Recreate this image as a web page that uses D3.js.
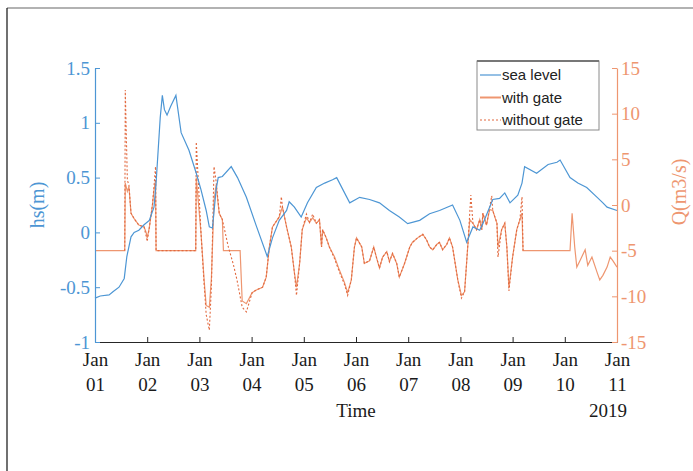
<!DOCTYPE html>
<html>
<head>
<meta charset="utf-8">
<script src="https://cdn.jsdelivr.net/npm/d3@7"></script>
<style>
  body { margin: 0; background: #fff; }
  svg text { font-family: "Liberation Serif", "Times New Roman", serif; }
</style>
</head>
<body>
<div id="chart"></div>
<script>
// day offsets from Jan 01 2019 00:00
var dayTicks = [0, 1, 2, 3, 4, 5, 6, 7, 8, 9, 10];
var dayLabels = ["01", "02", "03", "04", "05", "06", "07", "08", "09", "10", "11"];
var hsTicks = [-1, -0.5, 0, 0.5, 1, 1.5];
var qTicks = [-15, -10, -5, 0, 5, 10, 15];
var legendNames = ["sea level", "with gate", "without gate"];

// sea level hs (m)
var seaLevel = [
  [0, -0.6], [0.1, -0.58], [0.27, -0.57], [0.35, -0.54], [0.46, -0.5], [0.56, -0.42],
  [0.61, -0.22], [0.69, -0.04], [0.75, 0.0], [0.84, 0.02], [0.94, 0.07], [1.04, 0.11],
  [1.13, 0.23], [1.17, 0.45], [1.21, 0.75], [1.25, 1.05], [1.29, 1.25], [1.33, 1.12],
  [1.38, 1.07], [1.45, 1.15], [1.55, 1.25], [1.65, 0.91], [1.8, 0.75], [1.94, 0.54],
  [2.03, 0.39], [2.13, 0.2], [2.19, 0.05], [2.25, 0.04], [2.32, 0.39], [2.36, 0.5],
  [2.44, 0.51], [2.61, 0.6], [2.73, 0.5], [2.9, 0.32], [3.09, 0.06], [3.3, -0.22],
  [3.4, -0.05], [3.53, 0.11], [3.67, 0.2], [3.72, 0.28], [3.82, 0.23], [3.95, 0.14],
  [4.07, 0.27], [4.24, 0.41], [4.4, 0.45], [4.55, 0.48], [4.63, 0.5], [4.88, 0.27],
  [5.07, 0.32], [5.26, 0.3], [5.45, 0.27], [5.64, 0.2], [5.83, 0.14], [5.99, 0.08],
  [6.22, 0.11], [6.41, 0.17], [6.6, 0.2], [6.85, 0.25], [6.99, 0.11], [7.12, -0.09],
  [7.24, 0.05], [7.37, 0.02], [7.43, 0.08], [7.62, 0.3], [7.75, 0.31], [7.85, 0.36],
  [7.95, 0.27], [8.1, 0.34], [8.18, 0.45], [8.23, 0.6], [8.46, 0.54], [8.68, 0.62],
  [8.85, 0.64], [8.91, 0.66], [9.1, 0.5], [9.25, 0.45], [9.42, 0.41], [9.62, 0.32],
  [9.73, 0.27], [9.81, 0.23], [10, 0.2]
];

// discharge Q (m3/s) with gate
var withGate = [
  [0, -5], [0.57, -5], [0.58, 2.4], [0.62, 1.5], [0.65, 2.0], [0.69, -0.9], [0.75, -1.5],
  [0.84, -2.2], [0.94, -2.4], [0.98, -3.0], [1.0, -3.6], [1.04, -2.5], [1.1, 0.0],
  [1.13, 1.6], [1.16, 2.7], [1.17, -5], [1.93, -5], [1.94, 3.0], [2.03, -3], [2.09, -8.2],
  [2.13, -11], [2.19, -11.2], [2.23, -8], [2.28, 0.5], [2.32, 2.2], [2.38, -0.9],
  [2.44, -1.6], [2.46, -5], [2.78, -5], [2.82, -10.5], [2.9, -10.8], [3.01, -9.6],
  [3.09, -9.3], [3.21, -9.0], [3.28, -7.9], [3.34, -4.6], [3.4, -2.4], [3.53, -1.3],
  [3.59, -0.2], [3.67, -2.4], [3.76, -4.6], [3.82, -7.4], [3.86, -9.0], [3.92, -6.4],
  [3.97, -2.7], [4.05, -1.4], [4.11, -1.9], [4.17, -1.4], [4.24, -2.0], [4.3, -1.6],
  [4.34, -4.6], [4.36, -2.7], [4.43, -3.6], [4.49, -4.6], [4.59, -5.7], [4.68, -7.1],
  [4.78, -8.5], [4.84, -9.6], [4.91, -8.2], [4.97, -4.6], [5.01, -3.6], [5.11, -4.6],
  [5.16, -6.4], [5.26, -6.1], [5.34, -4.6], [5.39, -5.7], [5.45, -6.9], [5.51, -5.7],
  [5.59, -5.1], [5.64, -6.2], [5.7, -5.3], [5.78, -6.4], [5.83, -7.9], [5.93, -6.4],
  [6.03, -4.6], [6.08, -4.1], [6.18, -3.6], [6.28, -3.2], [6.35, -3.8], [6.41, -4.6],
  [6.47, -4.9], [6.55, -4.3], [6.6, -4.1], [6.66, -4.9], [6.74, -4.3], [6.79, -3.6],
  [6.85, -4.6], [6.95, -8.2], [7.02, -9.9], [7.08, -9.5], [7.14, -4.6], [7.18, -1.6],
  [7.24, -2.0], [7.31, -2.7], [7.37, -1.6], [7.41, -2.7], [7.43, -0.9], [7.5, -2.2],
  [7.56, -0.5], [7.62, -0.6], [7.7, -2.0], [7.72, -4.6], [7.79, -2.7], [7.85, -2.0],
  [7.89, -4.6], [7.93, -9.0], [8.0, -5.7], [8.08, -2.7], [8.14, -1.6], [8.18, -0.9],
  [8.2, -5], [9.1, -5], [9.14, -0.9], [9.19, -4.6], [9.23, -6.8], [9.29, -6.1],
  [9.39, -4.9], [9.44, -6.6], [9.52, -5.7], [9.62, -7.4], [9.67, -8.2], [9.73, -7.7],
  [9.81, -6.8], [9.87, -5.7], [9.92, -6.1], [10, -6.8]
];

// discharge Q (m3/s) without gate
var withoutGate = [
  [0.57, -5], [0.58, 12.6], [0.62, 2.7], [0.65, 2.2], [0.69, -0.9], [0.75, -1.5],
  [0.84, -2.2], [0.94, -2.4], [0.98, -3.4], [1.0, -4.0], [1.04, -2.5], [1.1, 0.0],
  [1.13, 2.0], [1.16, 4.2], [1.17, -5], [1.93, -5], [1.94, 6.9], [2.03, -3], [2.09, -8.6],
  [2.13, -12], [2.19, -13.7], [2.23, -9], [2.28, 4.2], [2.32, 2.6], [2.38, -0.9],
  [2.44, -1.6], [2.55, -4.5], [2.65, -6.5], [2.72, -8.2], [2.82, -11.2], [2.9, -11.7],
  [3.01, -9.6], [3.09, -9.3], [3.21, -9.0], [3.28, -7.9], [3.34, -4.6], [3.4, -2.4],
  [3.53, -1.3], [3.57, 0.9], [3.59, -0.2], [3.67, -2.4], [3.76, -4.6], [3.82, -7.4],
  [3.86, -9.9], [3.92, -6.4], [3.97, -2.7], [4.05, -1.0], [4.11, -1.9], [4.17, -1.0],
  [4.24, -2.0], [4.3, -1.6], [4.34, -4.6], [4.36, -2.7], [4.43, -3.6], [4.49, -4.6],
  [4.59, -5.9], [4.68, -7.3], [4.78, -8.7], [4.84, -9.9], [4.91, -8.2], [4.97, -4.6],
  [5.01, -3.6], [5.11, -4.6], [5.16, -6.4], [5.26, -6.1], [5.34, -4.6], [5.39, -5.7],
  [5.45, -6.9], [5.51, -5.7], [5.59, -5.1], [5.64, -6.2], [5.7, -5.3], [5.78, -6.4],
  [5.83, -7.9], [5.93, -6.4], [6.03, -4.6], [6.08, -4.1], [6.18, -3.6], [6.28, -3.2],
  [6.35, -3.8], [6.41, -4.6], [6.47, -4.9], [6.55, -4.3], [6.6, -4.1], [6.66, -4.9],
  [6.74, -4.3], [6.79, -3.6], [6.85, -4.6], [6.95, -8.2], [7.02, -10.2], [7.08, -9.5],
  [7.14, -4.6], [7.2, 1.1], [7.24, -2.0], [7.31, -2.7], [7.37, -1.6], [7.41, -2.7],
  [7.43, -0.9], [7.5, -2.2], [7.6, 1.0], [7.62, -0.6], [7.7, -2.0], [7.72, -5.7],
  [7.79, -2.7], [7.85, -2.0], [7.89, -4.6], [7.93, -9.4], [8.0, -5.7], [8.08, -2.7],
  [8.14, -1.6], [8.18, 0.9], [8.2, -5]
];

var W = 693, H = 471;
var margin = {top: 68, right: 76, bottom: 129, left: 95};
var width = W - margin.left - margin.right;
var height = H - margin.top - margin.bottom;

var blue = "#4d96d4";
var orange = "#ee9670";
var dotOrange = "#e2693f";

var svg = d3.select("#chart").append("svg")
    .attr("width", W)
    .attr("height", H);

// outer frame (only top and left edges show)
svg.append("line").attr("x1", 7).attr("x2", W).attr("y1", 8).attr("y2", 8)
    .style("stroke", "#666").style("stroke-width", 1.2);
svg.append("line").attr("x1", 7).attr("x2", 7).attr("y1", 8).attr("y2", H)
    .style("stroke", "#111").style("stroke-width", 1.2);

var g = svg.append("g")
    .attr("transform", "translate(" + margin.left + "," + margin.top + ")");

var x = d3.scaleLinear().domain([0, 10]).range([0, width]);
var yL = d3.scaleLinear().domain([-1, 1.5]).range([height, 0]);
var yR = d3.scaleLinear().domain([-15, 15]).range([height, 0]);

// lines
var lineL = d3.line().x(function(d) { return x(d[0]); }).y(function(d) { return yL(d[1]); });
var lineR = d3.line().x(function(d) { return x(d[0]); }).y(function(d) { return yR(d[1]); });

g.append("path")
    .datum(withGate)
    .attr("d", lineR)
    .style("fill", "none")
    .style("stroke", orange)
    .style("stroke-width", 1.2);

g.append("path")
    .datum(withoutGate)
    .attr("d", lineR)
    .style("fill", "none")
    .style("stroke", dotOrange)
    .style("stroke-width", 1.1)
    .style("stroke-dasharray", "2,2");

g.append("path")
    .datum(seaLevel)
    .attr("d", lineL)
    .style("fill", "none")
    .style("stroke", blue)
    .style("stroke-width", 1.2);

// x axis
var xAxis = g.append("g")
    .attr("transform", "translate(0," + height + ")")
    .call(d3.axisBottom(x).tickValues(dayTicks).tickSizeInner(-5).tickSizeOuter(0).tickFormat(""));
xAxis.select(".domain").style("stroke", "#262626");
xAxis.selectAll(".tick line").style("stroke", "#262626");

xAxis.selectAll(".tick").each(function(d, i) {
    var t = d3.select(this).append("text")
        .attr("fill", "#1a1a1a")
        .style("font-size", "19px")
        .attr("text-anchor", "middle");
    t.append("tspan").attr("x", 0).attr("y", 24).text("Jan");
    t.append("tspan").attr("x", 0).attr("y", 49).text(dayLabels[i]);
});

g.append("text")
    .attr("x", width / 2)
    .attr("y", height + 75)
    .attr("text-anchor", "middle")
    .style("font-size", "19px")
    .attr("fill", "#1a1a1a")
    .text("Time");

g.append("text")
    .attr("x", width + 10)
    .attr("y", height + 75)
    .attr("text-anchor", "end")
    .style("font-size", "19px")
    .attr("fill", "#1a1a1a")
    .text("2019");

// left axis
var leftAxis = g.append("g")
    .call(d3.axisLeft(yL).tickValues(hsTicks).tickSizeInner(-5).tickSizeOuter(0).tickPadding(5)
        .tickFormat(function(d) { return String(d); }));
leftAxis.select(".domain").style("stroke", blue).style("stroke-width", 1.2);
leftAxis.selectAll(".tick line").style("stroke", blue);
leftAxis.selectAll(".tick text")
    .attr("fill", blue)
    .style("font-size", "19px")
    .style("font-family", "Liberation Serif, serif");

// right axis
var rightAxis = g.append("g")
    .attr("transform", "translate(" + width + ",0)")
    .call(d3.axisRight(yR).tickValues(qTicks).tickSizeInner(-5).tickSizeOuter(0).tickPadding(4)
        .tickFormat(function(d) { return String(d); }));
rightAxis.select(".domain").style("stroke", orange).style("stroke-width", 1.2);
rightAxis.selectAll(".tick line").style("stroke", orange);
rightAxis.selectAll(".tick text")
    .attr("fill", orange)
    .style("font-size", "19px")
    .style("font-family", "Liberation Serif, serif");

// axis titles
svg.append("text")
    .attr("transform", "translate(44,205) rotate(-90)")
    .attr("text-anchor", "middle")
    .attr("fill", blue)
    .style("font-size", "20px")
    .text("hs(m)");

svg.append("text")
    .attr("transform", "translate(686,192) rotate(-90)")
    .attr("text-anchor", "middle")
    .attr("fill", orange)
    .style("font-size", "20px")
    .text("Q(m3/s)");

// legend
var legend = svg.append("g").attr("transform", "translate(477,61)");
legend.append("rect")
    .attr("width", 122)
    .attr("height", 69)
    .style("fill", "#fff")
    .style("stroke", "#8a8a8a")
    .style("stroke-width", 1);
legend.append("line").attr("x1", 0).attr("x2", 122).attr("y1", 0).attr("y2", 0)
    .style("stroke", "#777").style("stroke-width", 2);

var legendStyles = [
    {color: blue, dash: null},
    {color: orange, dash: null},
    {color: dotOrange, dash: "2,2"}
];
legendNames.forEach(function(name, i) {
    var yy = 14 + i * 22.5;
    legend.append("line")
        .attr("x1", 3).attr("x2", 24)
        .attr("y1", yy).attr("y2", yy)
        .style("stroke", legendStyles[i].color)
        .style("stroke-width", i == 1 ? 2 : 1.2)
        .style("stroke-dasharray", legendStyles[i].dash);
    legend.append("text")
        .attr("x", 25)
        .attr("y", yy + 5)
        .style("font-family", "Liberation Sans, Arial, sans-serif")
        .style("font-size", "15px")
        .attr("fill", "#222")
        .text(name);
});
</script>
</body>
</html>
